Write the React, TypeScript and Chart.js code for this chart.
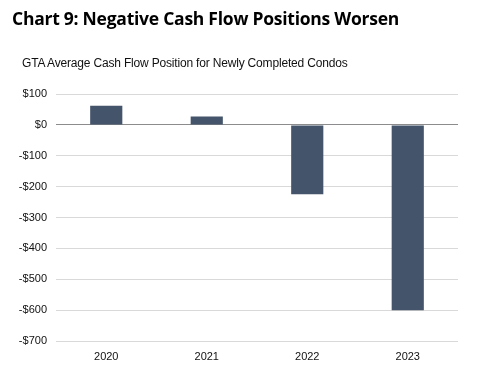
import React, { useEffect, useRef } from "react";
import { Chart, registerables } from "chart.js";

Chart.register(...registerables);

const categories = ["2020", "2021", "2022", "2023"];
const cashFlow = [62, 27, -225, -600];
const yMin = -700;
const yMax = 100;
const yStep = 100;

const title = "Chart 9: Negative Cash Flow Positions Worsen";
const subtitle = "GTA Average Cash Flow Position for Newly Completed Condos";

export default function App() {
  const ref = useRef<HTMLCanvasElement | null>(null);

  useEffect(() => {
    if (!ref.current) return;
    const chart = new Chart(ref.current, {
      type: "bar",
      data: {
        labels: categories,
        datasets: [
          {
            data: cashFlow,
            backgroundColor: "#44546a",
            borderWidth: 0,
            barPercentage: 0.32,
            categoryPercentage: 1,
          },
        ],
      },
      options: {
        animation: false,
        responsive: false,
        maintainAspectRatio: false,
        layout: { padding: { left: 0, right: 23, top: 94, bottom: 0 } },
        plugins: { legend: { display: false }, tooltip: { enabled: false }, title: { display: false } },
        scales: {
          x: {
            grid: { display: false, drawTicks: false },
            border: { display: false },
            ticks: { color: "#111", font: { family: "Liberation Sans", size: 11 }, padding: 9 },
            afterFit: (s: any) => {
              s.height = 49;
            },
          },
          y: {
            min: yMin,
            max: yMax,
            ticks: {
              stepSize: yStep,
              color: "#111",
              font: { family: "Liberation Sans", size: 11 },
              padding: 9,
              callback: (v: any) => (v < 0 ? "-$" + Math.abs(v) : "$" + v),
            },
            grid: {
              drawTicks: false,
              lineWidth: 1,
              color: (ctx: any) => (ctx.tick && ctx.tick.value === 0 ? "#8c8c8c" : "#d9d9d9"),
            },
            border: { display: false },
            afterFit: (s: any) => {
              s.width = 56;
            },
          },
        },
      },
    });
    return () => chart.destroy();
  }, []);

  return (
    <div style={{ position: "fixed", left: 0, top: 0, width: 481, height: 390, background: "#fff", overflow: "hidden" }}>
      <canvas ref={ref} width={481} height={390} style={{ position: "absolute", left: 0, top: 0, width: 481, height: 390 }} />
      <div
        style={{
          position: "absolute",
          left: 12,
          top: 6,
          fontFamily: "'Open Sans', sans-serif",
          fontWeight: 700,
          fontSize: 17.5,
          color: "#000",
          whiteSpace: "nowrap",
          letterSpacing: -0.25,
        }}
      >
        {title}
      </div>
      <div
        style={{
          position: "absolute",
          left: 22,
          top: 56,
          fontFamily: "'Liberation Sans', Arial, sans-serif",
          fontSize: 12,
          color: "#111",
          whiteSpace: "nowrap",
          letterSpacing: -0.18,
        }}
      >
        {subtitle}
      </div>
    </div>
  );
}
